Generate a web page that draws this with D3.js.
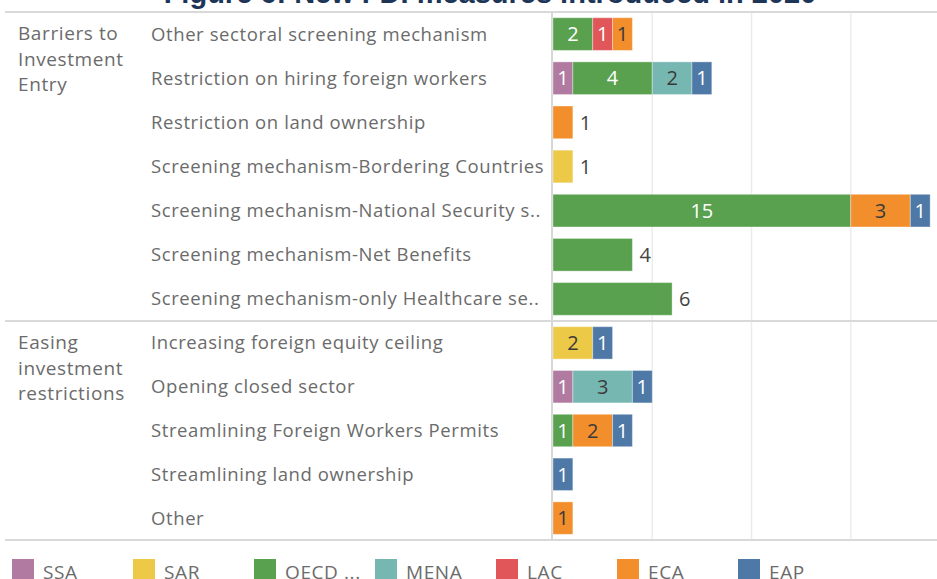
<!DOCTYPE html>
<html>
<head>
<meta charset="utf-8">
<script src="https://cdn.jsdelivr.net/npm/d3@7"></script>
<style>
  body { margin: 0; background: #fff; overflow: hidden; }
  text { font-family: "Open Sans", sans-serif; }
</style>
</head>
<body>
<svg id="chart" width="937" height="579"></svg>
<script>
// groups and their measure categories (top to bottom)
const groups = ["Barriers to Investment Entry", "Easing investment restrictions"];
const groupLines = [["Barriers to", "Investment", "Entry"], ["Easing", "investment", "restrictions"]];
const barrierCategories = [
  "Other sectoral screening mechanism",
  "Restriction on hiring foreign workers",
  "Restriction on land ownership",
  "Screening mechanism-Bordering Countries",
  "Screening mechanism-National Security s..",
  "Screening mechanism-Net Benefits",
  "Screening mechanism-only Healthcare se.."
];
const easingCategories = [
  "Increasing foreign equity ceiling",
  "Opening closed sector",
  "Streamlining Foreign Workers Permits",
  "Streamlining land ownership",
  "Other"
];

// regions in stack / legend order
const regions = ["SSA", "SAR", "OECD", "MENA", "LAC", "ECA", "EAP"];
const legendLabels = ["SSA", "SAR", "OECD ...", "MENA", "LAC", "ECA", "EAP"];
const regionColors = ["#b07aa1", "#edc948", "#59a14f", "#76b7b2", "#e15759", "#f28e2b", "#4e79a7"];
const darkTextRegions = ["SAR", "MENA", "ECA"];

// number of measures per category (barrier rows then easing rows)
const SSA  = [0, 1, 0, 0, 0, 0, 0,  0, 1, 0, 0, 0];
const SAR  = [0, 0, 0, 1, 0, 0, 0,  2, 0, 0, 0, 0];
const OECD = [2, 4, 0, 0, 15, 4, 6, 0, 0, 1, 0, 0];
const MENA = [0, 2, 0, 0, 0, 0, 0,  0, 3, 0, 0, 0];
const LAC  = [1, 0, 0, 0, 0, 0, 0,  0, 0, 0, 0, 0];
const ECA  = [1, 0, 1, 0, 3, 0, 0,  0, 0, 2, 0, 1];
const EAP  = [0, 1, 0, 0, 1, 0, 0,  1, 1, 1, 1, 0];

const xTicks = [0, 5, 10, 15];
const title = "Figure 6: New FDI measures introduced in 2020";

const series = { SSA, SAR, OECD, MENA, LAC, ECA, EAP };
const allCategories = barrierCategories.concat(easingCategories);
const rows = allCategories.map((c, i) => {
  const row = { category: c, group: i < barrierCategories.length ? groups[0] : groups[1] };
  regions.forEach((r) => (row[r] = series[r][i]));
  row.total = d3.sum(regions, (r) => row[r]);
  return row;
});

const svg = d3.select("#chart");
const W = 937;
const frameLeft = 5;
const plotLeft = 553;
const frameTop = 12;
const sectionBreak = 321;
const frameBottom = 540;

const x = d3.scaleLinear().domain([0, 20]).range([plotLeft, 950]);
const y1 = d3.scaleBand().domain(barrierCategories).range([frameTop, sectionBreak]).paddingInner(0.26).paddingOuter(0.13);
const y2 = d3.scaleBand().domain(easingCategories).range([sectionBreak, frameBottom]).paddingInner(0.26).paddingOuter(0.13);
const yOf = (d) => (d.group === groups[0] ? y1 : y2);

const color = d3.scaleOrdinal().domain(regions).range(regionColors);

// title (cut off by the top of the frame)
svg.append("text")
  .attr("x", 490)
  .attr("y", 3)
  .attr("text-anchor", "middle")
  .style("font-family", "Arial, 'Liberation Sans', sans-serif")
  .style("font-weight", "bold")
  .style("font-size", "29px")
  .style("fill", "#1d3557")
  .text(title);

// grid lines
svg.append("g")
  .selectAll("line")
  .data(xTicks.slice(1))
  .join("line")
  .attr("x1", (d) => x(d))
  .attr("x2", (d) => x(d))
  .attr("y1", frameTop)
  .attr("y2", frameBottom)
  .attr("stroke", "#ececec")
  .attr("stroke-width", 1.5);

// axis line
svg.append("line")
  .attr("x1", x(0) - 1)
  .attr("x2", x(0) - 1)
  .attr("y1", frameTop)
  .attr("y2", frameBottom)
  .attr("stroke", "#c8c8c8")
  .attr("stroke-width", 1.5);

// horizontal dividers
svg.append("g")
  .selectAll("line")
  .data([frameTop, sectionBreak, frameBottom])
  .join("line")
  .attr("x1", frameLeft)
  .attr("x2", W)
  .attr("y1", (d) => d)
  .attr("y2", (d) => d)
  .attr("stroke", "#d9d9d9")
  .attr("stroke-width", 2);

// group labels
const groupTops = [frameTop, sectionBreak];
groupLines.forEach((lines, gi) => {
  svg.append("text")
    .attr("x", 18)
    .attr("y", groupTops[gi] + 28)
    .style("font-size", "19px")
    .style("letter-spacing", "0.6px")
    .style("fill", "#6b6b6b")
    .selectAll("tspan")
    .data(lines)
    .join("tspan")
    .attr("x", 18)
    .attr("dy", (d, i) => (i === 0 ? 0 : 25.5))
    .text((d) => d);
});

// category labels
svg.append("g")
  .selectAll("text")
  .data(rows)
  .join("text")
  .attr("x", 151)
  .attr("y", (d) => yOf(d)(d.category) + yOf(d).bandwidth() / 2)
  .attr("dy", "0.35em")
  .style("font-size", "18.5px")
  .style("letter-spacing", "0.6px")
  .style("fill", "#6b6b6b")
  .text((d) => d.category);

// stacked bars
const stacked = d3.stack().keys(regions)(rows);
const segs = [];
stacked.forEach((layer) => {
  layer.forEach((s) => {
    if (s[1] - s[0] > 0) segs.push({ key: layer.key, x0: s[0], x1: s[1], row: s.data });
  });
});

const barG = svg.append("g");
barG.selectAll("rect")
  .data(segs)
  .join("rect")
  .attr("x", (d) => x(d.x0))
  .attr("y", (d) => yOf(d.row)(d.row.category))
  .attr("width", (d) => x(d.x1) - x(d.x0))
  .attr("height", (d) => yOf(d.row).bandwidth())
  .attr("fill", (d) => color(d.key))
  .attr("stroke", "rgba(255,255,255,0.35)")
  .attr("stroke-width", 1);

// single-segment barrier bars get their total written after the bar
const outside = (d) => d.group === groups[0] && regions.filter((r) => d[r] > 0).length === 1;

barG.selectAll("text.in")
  .data(segs.filter((d) => !outside(d.row)))
  .join("text")
  .attr("class", "in")
  .attr("x", (d) => (x(d.x0) + x(d.x1)) / 2)
  .attr("y", (d) => yOf(d.row)(d.row.category) + yOf(d.row).bandwidth() / 2)
  .attr("dy", "0.36em")
  .attr("text-anchor", "middle")
  .style("font-size", "20px")
  .style("fill", (d) => (darkTextRegions.includes(d.key) ? "#3a3a3a" : "#ffffff"))
  .text((d) => d.x1 - d.x0);

barG.selectAll("text.out")
  .data(rows.filter(outside))
  .join("text")
  .attr("class", "out")
  .attr("x", (d) => x(d.total) + 7)
  .attr("y", (d) => yOf(d)(d.category) + yOf(d).bandwidth() / 2)
  .attr("dy", "0.36em")
  .style("font-size", "20px")
  .style("fill", "#444")
  .text((d) => d.total);

// legend
const legend = svg.append("g")
  .selectAll("g")
  .data(regions)
  .join("g")
  .attr("transform", (d, i) => `translate(${12 + i * 121},559)`);

legend.append("rect")
  .attr("width", 22)
  .attr("height", 24)
  .attr("fill", (d) => color(d));

legend.append("text")
  .attr("x", 31)
  .attr("y", 20)
  .style("font-size", "19px")
  .style("letter-spacing", "0.6px")
  .style("fill", "#6b6b6b")
  .text((d, i) => legendLabels[i]);
</script>
</body>
</html>
